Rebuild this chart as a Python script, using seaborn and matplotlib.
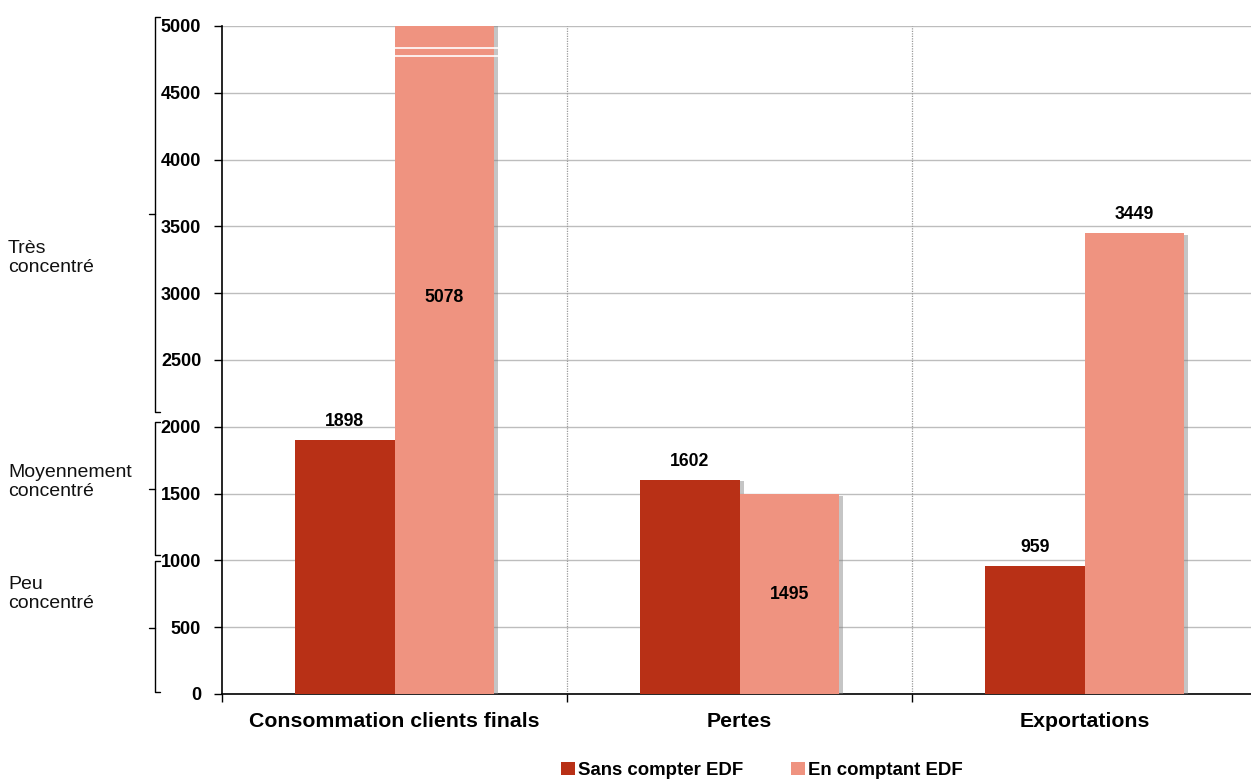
import matplotlib
matplotlib.use("Agg")
import matplotlib.pyplot as plt
import matplotlib.patheffects as pe
import matplotlib.transforms as mtransforms
from matplotlib.ticker import FixedLocator
import seaborn as sns
import pandas as pd

# Indices HHI par segment de marché
categories = ["Consommation clients finals", "Pertes", "Exportations"]
series_names = ["Sans compter EDF", "En comptant EDF"]
sans_edf = [1898, 1602, 959]
avec_edf = [5078, 1495, 3449]
yticks = [0, 500, 1000, 1500, 2000, 2500, 3000, 3500, 4000, 4500, 5000]

# Niveaux de concentration (bornes de l'indice)
levels = ["Peu\nconcentré", "Moyennement\nconcentré", "Très\nconcentré"]

colors = ["#B83016", "#EF9380"]

df = pd.DataFrame({
    "categorie": categories * 2,
    "serie": [series_names[0]] * 3 + [series_names[1]] * 3,
    "valeur": sans_edf + avec_edf,
})

sns.set_theme(style="white")
plt.rcParams["font.family"] = ["Liberation Sans", "DejaVu Sans"]
plt.rcParams["text.color"] = "black"
plt.rcParams["xtick.color"] = "black"
plt.rcParams["ytick.color"] = "black"

fig = plt.figure(figsize=(12.51, 7.81), dpi=100)
ax = fig.add_axes([222 / 1251, 87 / 781, 1035 / 1251, 668 / 781])

sns.barplot(data=df, x="categorie", y="valeur", hue="serie",
            palette=colors, saturation=1, width=0.575, ax=ax,
            edgecolor="none", zorder=3)

shadow = [pe.SimplePatchShadow(offset=(3, -1), shadow_rgbFace="#7f7f7f", alpha=0.45),
          pe.Normal()]
for bar in ax.patches:
    bar.set_path_effects(shadow)

ax.set_ylim(0, 5000)
ax.set_xlim(-0.5, 2.5)
ax.yaxis.set_major_locator(FixedLocator(yticks))
ax.set_yticklabels([str(v) for v in yticks], fontsize=13, fontweight="bold")
ax.grid(axis="y", color="#BDBDBD", linewidth=1, zorder=0)
ax.set_axisbelow(True)

for sp in ["top", "right"]:
    ax.spines[sp].set_visible(False)
ax.spines["left"].set_color("black")
ax.spines["bottom"].set_color("black")
ax.spines["left"].set_linewidth(1.2)
ax.spines["bottom"].set_linewidth(1.2)
ax.tick_params(axis="y", left=True, length=6, width=1, color="black", pad=9,
               labelcolor="black")

ax.set_xticks(range(len(categories)))
ax.set_xticklabels(categories, fontsize=15.3, fontweight="bold")
ax.tick_params(axis="x", which="major", length=0, pad=13, labelcolor="black")
ax.xaxis.set_minor_locator(FixedLocator([-0.5, 0.5, 1.5]))
ax.tick_params(axis="x", which="minor", bottom=True, length=6, width=1, color="black")
ax.set_xlabel("")
ax.set_ylabel("")

# séparateurs pointillés entre catégories
for xb in [0.5, 1.5]:
    ax.axvline(xb, color="#9a9a9a", linestyle=(0, (1, 1)), linewidth=0.9, zorder=1)

# Étiquettes de valeur
bars_s = ax.containers[0]
bars_a = ax.containers[1]
for bar, v in zip(bars_s, sans_edf):
    ax.text(bar.get_x() + bar.get_width() / 2, v + 75, str(v),
            ha="center", va="bottom", fontsize=12.7, fontweight="bold", zorder=5)
for bar, v, ref in zip(bars_a, avec_edf, sans_edf):
    cx = bar.get_x() + bar.get_width() / 2
    if v > 5000:
        # barre tronquée : double trait de coupure et valeur à l'intérieur
        for yb in (4775, 4835):
            ax.plot([bar.get_x(), bar.get_x() + bar.get_width() * 1.07], [yb, yb],
                    color="white", linewidth=1.2, zorder=6, solid_capstyle="butt")
        ax.text(cx, 2970, str(v), ha="center", va="center",
                fontsize=12.7, fontweight="bold", zorder=5)
    elif v < ref:
        ax.text(cx, v / 2, str(v), ha="center", va="center",
                fontsize=12.7, fontweight="bold", zorder=5)
    else:
        ax.text(cx, v + 75, str(v), ha="center", va="bottom",
                fontsize=12.7, fontweight="bold", zorder=5)

# Accolades des niveaux de concentration
trans = mtransforms.blended_transform_factory(fig.transFigure, ax.transData)
xb = 155 / 1251
hook = 5 / 1251
tip = 6 / 1251
spans = [(15, 995, 494), (1040, 2036, 1534), (2111, 5067, 3593)]
label_y = [749, 1587, 3263]
for (y0, y1, ym), name, ly in zip(spans, levels, label_y):
    ax.plot([xb + hook, xb, xb, xb + hook], [y0, y0, y1, y1], color="black",
            linewidth=1, transform=trans, clip_on=False)
    ax.plot([xb - tip, xb], [ym, ym], color="black", linewidth=1,
            transform=trans, clip_on=False)
    ax.text(8 / 1251, ly, name, transform=trans, ha="left", va="center",
            fontsize=14, linespacing=1.2, color="#111111")

# Légende
handles, labels = ax.get_legend_handles_labels()
leg = ax.legend(handles, labels, loc="lower center", bbox_to_anchor=(762 / 1251, 0.0),
                bbox_transform=fig.transFigure, ncol=2, frameon=False,
                prop={"weight": "bold", "size": 13.4}, handlelength=0.75,
                handleheight=0.75, handletextpad=0.15, columnspacing=2.6,
                borderaxespad=0.0, borderpad=0.1)
for h in leg.legend_handles:
    h.set_path_effects([])

fig.savefig("out.png", dpi=100)
